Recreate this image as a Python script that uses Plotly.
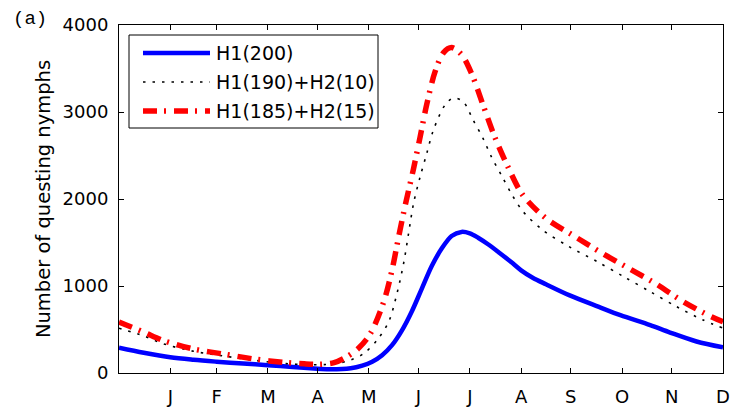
import plotly.graph_objects as go

# Day-of-year sample points and questing-nymph densities for each host scenario
days_h1 = [0, 15, 31, 45, 59, 75, 90, 105, 120, 128, 140, 147, 153, 159, 165, 171, 177,
           183, 189, 195, 201, 207, 212, 217, 223, 230, 237, 243, 250, 258, 272, 290, 303,
           321, 333, 349, 365]
nymphs_h1 = [290, 232, 180, 152, 130, 108, 90, 70, 50, 42, 54, 85, 130, 205, 320, 490, 710,
             970, 1230, 1430, 1575, 1622, 1605, 1555, 1480, 1380, 1275, 1180, 1095, 1020, 895, 760, 665,
             550, 465, 362, 295]

days_h1h2_10 = [0, 15, 27, 45, 64, 83, 101, 115, 125, 132, 140, 148, 156, 163, 168, 172, 175,
                178, 182, 186, 190, 197, 202, 208, 214, 220, 225, 231, 237, 244, 256, 272, 289,
                305, 321, 337, 353, 365]
nymphs_h1h2_10 = [515, 425, 335, 250, 193, 143, 108, 95, 97, 111, 149, 226, 379, 590, 916, 1261, 1606,
                  1950, 2257, 2525, 2793, 3080, 3160, 3118, 2908, 2697, 2486, 2276, 2065, 1860, 1644, 1452, 1280,
                  1107, 935, 762, 609, 515]

days_h1h2_15 = [0, 4, 15, 27, 45, 64, 83, 101, 112, 122, 130, 138, 145, 152, 160, 165, 169,
                173, 178, 182, 186, 191, 196, 201, 207, 213, 220, 227, 235, 244, 258, 274, 292,
                308, 324, 341, 358, 365]
nymphs_h1h2_15 = [585, 555, 470, 372, 276, 215, 157, 120, 105, 100, 118, 190, 290, 456, 820, 1184, 1567,
                  1931, 2350, 2716, 3090, 3463, 3680, 3740, 3660, 3445, 3080, 2716, 2371, 2046, 1778, 1586, 1376,
                  1203, 1031, 820, 647, 590]

month_ends = [31, 59, 90, 120, 151, 181, 212, 243, 273, 304, 334, 365]
month_labels = ["J", "F", "M", "A", "M", "J", "J", "A", "S", "O", "N", "D"]
y_ticks = [0, 1000, 2000, 3000, 4000]

series_names = ["H1(200)", "H1(190)+H2(10)", "H1(185)+H2(15)"]
styles = [
    dict(color="#0000ff", width=4.5, dash="solid"),
    dict(color="#000000", width=1.6, dash="2.5px,7px"),
    dict(color="#ff0000", width=5.5, dash="14px,7px,2px,8px"),
]

FONT = "DejaVu Sans"

fig = go.Figure()
for xs, ys, name, st in zip(
    [days_h1, days_h1h2_10, days_h1h2_15],
    [nymphs_h1, nymphs_h1h2_10, nymphs_h1h2_15],
    series_names, styles,
):
    fig.add_trace(go.Scatter(
        x=xs, y=ys, mode="lines", name=name,
        line=dict(color=st["color"], width=st["width"], dash=st["dash"],
                  shape="spline", smoothing=0.9),
        showlegend=False,
    ))

axis_common = dict(
    showline=True, linecolor="black", linewidth=1, mirror="ticks",
    ticks="inside", ticklen=5, tickcolor="black", tickwidth=1,
    showgrid=False, zeroline=False, automargin=False,
    tickfont=dict(family=FONT, size=18, color="black"),
)

fig.update_xaxes(range=[0, 365], tickvals=month_ends, ticktext=month_labels,
                 ticklabelstandoff=7, **axis_common)
fig.update_yaxes(range=[0, 4000], tickvals=y_ticks, ticklabelstandoff=6,
                 title=dict(text="Number of questing nymphs",
                            font=dict(family=FONT, size=19.5, color="black"),
                            standoff=6),
                 **axis_common)

# Legend box drawn in paper coordinates, with line samples matching the traces
W, H = 730, 408
ml, mr, mt, mb = 119, 7, 25, 35
pw, ph = W - ml - mr, H - mt - mb


def px_x(px):
    return (px - ml) / pw


def px_y(py):
    return (H - mb - py) / ph


shapes = [dict(type="rect", xref="paper", yref="paper",
               x0=px_x(129), x1=px_x(378), y0=px_y(128), y1=px_y(35),
               line=dict(color="black", width=1), fillcolor="white", layer="above")]
annotations = []
row_y = [53, 82, 111]
for name, st, ry in zip(series_names, styles, row_y):
    shapes.append(dict(type="line", xref="paper", yref="paper",
                       x0=px_x(143), x1=px_x(210), y0=px_y(ry), y1=px_y(ry),
                       line=dict(color=st["color"], width=st["width"], dash=st["dash"]),
                       layer="above"))
    annotations.append(dict(text=name, xref="paper", yref="paper",
                            x=px_x(214), y=px_y(ry), xanchor="left", yanchor="middle",
                            showarrow=False,
                            font=dict(family=FONT, size=19, color="black")))

annotations.append(dict(text="(a)", xref="paper", yref="paper",
                        x=px_x(11), y=px_y(19), xanchor="left", yanchor="middle",
                        showarrow=False,
                        font=dict(family="Liberation Mono", size=19, color="black")))

fig.update_layout(
    width=W, height=H,
    margin=dict(l=ml, r=mr, t=mt, b=mb),
    paper_bgcolor="white", plot_bgcolor="white",
    shapes=shapes, annotations=annotations,
    showlegend=False,
)

fig.write_html("out.html")
